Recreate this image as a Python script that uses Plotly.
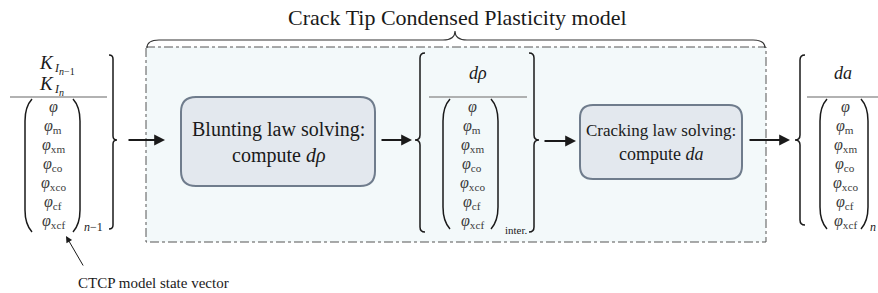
import plotly.graph_objects as go

# ---- content (text) ----
title_text = "Crack Tip Condensed Plasticity model"
state_vars = ["", "m", "xm", "co", "xco", "cf", "xcf"]
load_symbol = "<i>K</i>"
load_index = "<i>I</i>"
load_steps = ["<i>n</i>−1", "<i>n</i>"]
left_sub = "<i>n</i>−1"
mid_header = "<i>dρ</i>"
mid_sub = "inter."
right_header = "<i>da</i>"
right_sub = "<i>n</i>"
blunt_lines = ["Blunting law solving:", "compute <i>dρ</i>"]
crack_lines = ["Cracking law solving:", "compute <i>da</i>"]
note_text = "CTCP model state vector"

W, H = 878, 293
SERIF = "Liberation Serif, Times New Roman, serif"
INK = "#1a1a1a"
GRAY_INK = "#3a3a3a"

shapes = []
annotations = []


def path_shape(d, color=INK, width=1.5, fill=None):
    shapes.append(dict(type="path", path=d, xref="x", yref="y",
                       line=dict(color=color, width=width),
                       fillcolor=fill if fill else "rgba(0,0,0,0)"))


def text(x, y, t, size=14, color=INK, xanchor="center", yanchor="middle"):
    annotations.append(dict(x=x, y=y, xref="x", yref="y", text=t, showarrow=False,
                            xanchor=xanchor, yanchor=yanchor,
                            font=dict(family=SERIF, size=size, color=color)))


def arrow(x0, y0, x1, y1, width=1.8, size=1.2):
    annotations.append(dict(x=x1, y=y1, ax=x0, ay=y0, xref="x", yref="y",
                            axref="x", ayref="y", text="", showarrow=True,
                            arrowhead=2, arrowsize=size, arrowwidth=width,
                            arrowcolor=INK, standoff=0, startstandoff=0,
                            font=dict(family=SERIF, size=12)))


def lparen(x, y0, y1, w=7):
    c = 22
    return (f"M {x+w},{y0} Q {x},{y0+c*0.35} {x},{y0+c} L {x},{y1-c} "
            f"Q {x},{y1-c*0.35} {x+w},{y1}")


def rparen(x, y0, y1, w=7):
    c = 22
    return (f"M {x-w},{y0} Q {x},{y0+c*0.35} {x},{y0+c} L {x},{y1-c} "
            f"Q {x},{y1-c*0.35} {x-w},{y1}")


def brace(xc, y0, y1, ym, w):
    # w>0 -> '{' (tip to the left), w<0 -> '}' (tip to the right)
    a = abs(w)
    return (f"M {xc+w},{y0} Q {xc},{y0} {xc},{y0+a} L {xc},{ym-a} "
            f"Q {xc},{ym} {xc-w},{ym} Q {xc},{ym} {xc},{ym+a} "
            f"L {xc},{y1-a} Q {xc},{y1} {xc+w},{y1}")


def overbrace(x0, x1, xm, y_end, y_h, y_peak, r=10):
    return (f"M {x0},{y_end} Q {x0},{y_h} {x0+r},{y_h} L {xm-r},{y_h} "
            f"Q {xm},{y_h} {xm},{y_peak} Q {xm},{y_h} {xm+r},{y_h} "
            f"L {x1-r},{y_h} Q {x1},{y_h} {x1},{y_end}")


def rrect(x0, y0, x1, y1, r):
    return (f"M {x0+r},{y0} L {x1-r},{y0} Q {x1},{y0} {x1},{y0+r} L {x1},{y1-r} "
            f"Q {x1},{y1} {x1-r},{y1} L {x0+r},{y1} Q {x0},{y1} {x0},{y1-r} "
            f"L {x0},{y0+r} Q {x0},{y0} {x0+r},{y0} Z")


def phi_column(xc, y_first, step=19, size=16):
    for i, s in enumerate(state_vars):
        t = "<i>φ</i>" + (f"<sub>{s}</sub>" if s else "")
        text(xc, y_first + i * step, t, size=size, color=GRAY_INK)


# ---- model box (dash-dot) ----
shapes.append(dict(type="rect", xref="x", yref="y", x0=146, x1=766, y0=47, y1=242,
                   fillcolor="#f3f9fa", line=dict(color="#555", width=1, dash="dashdot"),
                   layer="below"))
# overbrace + title
path_shape(overbrace(147, 765, 455, 48, 40, 31, r=12), color="#333", width=1.1)
text(457, 17, title_text, size=22)

# ---- left vector ----
for yk, step in zip([62, 83], load_steps):
    text(46, yk, load_symbol, size=19)
    text(52, yk + 6, load_index, size=12, xanchor="left")
    text(57, yk + 9, step, size=10, xanchor="left")
shapes.append(dict(type="line", xref="x", yref="y", x0=10, x1=107, y0=97, y1=97,
                   line=dict(color="#999", width=1.5)))
path_shape(lparen(25, 99, 232))
path_shape(rparen(80, 99, 232))
phi_column(53, 107)
text(93, 227, left_sub, size=12)
path_shape(brace(113, 55, 229, 140, -4))

arrow(127, 140, 165, 140)

# ---- blunting box ----
path_shape(rrect(181, 97, 375, 186, 15), color="#6f7c8c", width=2, fill="#e3e8ee")
text(278, 129, blunt_lines[0], size=20)
text(278, 155, blunt_lines[1], size=20)

arrow(380, 140, 412, 140)

# ---- intermediate vector ----
path_shape(brace(420, 53, 232, 140, 5))
text(478, 73, mid_header, size=18)
shapes.append(dict(type="line", xref="x", yref="y", x0=429, x1=527, y0=97, y1=97,
                   line=dict(color="#999", width=1.5)))
path_shape(lparen(443, 99, 229))
path_shape(rparen(498, 99, 229))
phi_column(472, 107)
text(516, 230, mid_sub, size=11)
path_shape(brace(534, 53, 232, 140, -5))

arrow(543, 141, 576, 141)

# ---- cracking box ----
path_shape(rrect(580, 105, 742, 179, 13), color="#6f7c8c", width=2, fill="#e3e8ee")
text(661, 130, crack_lines[0], size=17)
text(661, 154, crack_lines[1], size=18)

arrow(748, 140, 790, 140)

# ---- right vector ----
path_shape(brace(800, 55, 225, 140, 5))
text(843, 73, right_header, size=18)
shapes.append(dict(type="line", xref="x", yref="y", x0=807, x1=878, y0=97, y1=97,
                   line=dict(color="#999", width=1.5)))
path_shape(lparen(820, 99, 229))
path_shape(rparen(868, 99, 229))
phi_column(845, 107)
text(873, 227, right_sub, size=12)

# ---- note ----
annotations.append(dict(x=66, y=236, ax=84, ay=267, xref="x", yref="y", axref="x", ayref="y",
                        text="", showarrow=True, arrowhead=2, arrowsize=1.3,
                        arrowwidth=1, arrowcolor=INK, standoff=0,
                        font=dict(family=SERIF, size=12)))
text(153, 283, note_text, size=15)

fig = go.Figure()
fig.update_layout(
    width=W, height=H, margin=dict(l=0, r=0, t=0, b=0),
    paper_bgcolor="white", plot_bgcolor="white",
    font=dict(family=SERIF, size=14, color=INK),
    xaxis=dict(range=[0, W], visible=False, fixedrange=True),
    yaxis=dict(range=[H, 0], visible=False, fixedrange=True),
    shapes=shapes, annotations=annotations, showlegend=False,
)
fig.write_html("out.html", config={"displayModeBar": False},
               post_script="document.body.style.margin='0';document.body.style.overflow='hidden';")
